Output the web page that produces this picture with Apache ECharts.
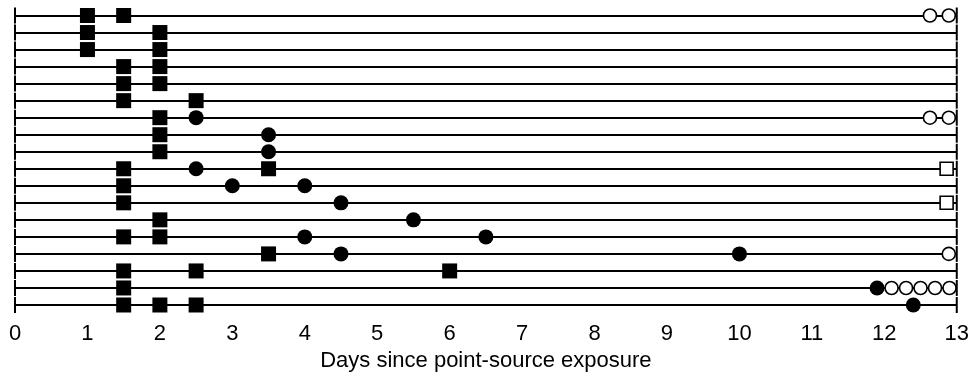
<!DOCTYPE html>
<html>
<head>
<meta charset="utf-8">
<script src="https://cdn.jsdelivr.net/npm/echarts@6/dist/echarts.min.js"></script>
<style>
  html, body { margin: 0; padding: 0; background: #fff; }
  #chart { width: 972px; height: 377px; }
</style>
</head>
<body>
<div id="chart"></div>
<script>
// Rows are numbered 1 (top) .. 18 (bottom); x is days since exposure.
const rowCount = 18;
const xTicks = [0, 1, 2, 3, 4, 5, 6, 7, 8, 9, 10, 11, 12, 13];
const xAxisTitle = 'Days since point-source exposure';

// [day, row]
const filledSquares = [
  [1, 1], [1.5, 1],
  [1, 2], [2, 2],
  [1, 3], [2, 3],
  [1.5, 4], [2, 4],
  [1.5, 5], [2, 5],
  [1.5, 6], [2.5, 6],
  [2, 7],
  [2, 8],
  [2, 9],
  [1.5, 10], [3.5, 10],
  [1.5, 11],
  [1.5, 12],
  [2, 13],
  [1.5, 14], [2, 14],
  [3.5, 15],
  [1.5, 16], [2.5, 16], [6, 16],
  [1.5, 17],
  [1.5, 18], [2, 18], [2.5, 18]
];
const filledCircles = [
  [2.5, 7],
  [3.5, 8],
  [3.5, 9],
  [2.5, 10],
  [3, 11], [4, 11],
  [4.5, 12],
  [5.5, 13],
  [4, 14], [6.5, 14],
  [4.5, 15], [10, 15],
  [11.9, 17],
  [12.4, 18]
];
const openCircles = [
  [12.63, 1], [12.89, 1],
  [12.63, 7], [12.89, 7],
  [12.89, 15],
  [12.1, 17], [12.3, 17], [12.5, 17], [12.7, 17], [12.9, 17]
];
const openSquares = [
  [12.86, 10],
  [12.86, 12]
];

const rowEnds = [];
for (let r = 1; r <= rowCount; r++) {
  rowEnds.push([xTicks[0], r]);
  rowEnds.push([xTicks[xTicks.length - 1], r]);
}

const FONT = '"Liberation Sans", Arial, Helvetica, sans-serif';
const chart = echarts.init(document.getElementById('chart'), null, { renderer: 'canvas' });
chart.setOption({
  animation: false,
  backgroundColor: '#fff',
  grid: { left: 15, right: 10, top: 15.5, bottom: 70.5 },
  xAxis: {
    type: 'value',
    min: xTicks[0],
    max: xTicks[xTicks.length - 1],
    interval: 1,
    axisLine: { show: false },
    axisTick: { show: false },
    splitLine: { show: false },
    axisLabel: {
      color: '#000', fontSize: 22, fontFamily: FONT, margin: 18,
      formatter: v => String(v)
    },
    name: xAxisTitle,
    nameLocation: 'middle',
    nameGap: 45,
    nameTextStyle: { color: '#000', fontSize: 22, fontFamily: FONT }
  },
  yAxis: {
    type: 'value',
    inverse: true,
    min: 1,
    max: rowCount,
    interval: 1,
    axisLine: { show: false },
    axisTick: { show: false },
    axisLabel: { show: false },
    splitLine: { show: true, showMinLine: true, showMaxLine: true, lineStyle: { color: '#000', width: 2 } }
  },
  series: [
    {
      name: 'ends', type: 'scatter', data: rowEnds, clip: false,
      symbol: 'rect', symbolSize: [2, 16],
      itemStyle: { color: '#000', opacity: 1 }, z: 3, silent: true
    },
    {
      name: 'filledSquares', type: 'scatter', data: filledSquares, clip: false,
      symbol: 'rect', symbolSize: 15,
      itemStyle: { color: '#000', opacity: 1 }, z: 4
    },
    {
      name: 'filledCircles', type: 'scatter', data: filledCircles, clip: false,
      symbol: 'circle', symbolSize: 15,
      itemStyle: { color: '#000', opacity: 1 }, z: 4
    },
    {
      name: 'openCircles', type: 'scatter', data: openCircles, clip: false,
      symbol: 'circle', symbolSize: 13,
      itemStyle: { color: '#fff', borderColor: '#000', borderWidth: 1.6, opacity: 1 }, z: 5
    },
    {
      name: 'openSquares', type: 'scatter', data: openSquares, clip: false,
      symbol: 'rect', symbolSize: 13,
      itemStyle: { color: '#fff', borderColor: '#000', borderWidth: 1.6, opacity: 1 }, z: 5
    }
  ]
});
</script>
</body>
</html>
